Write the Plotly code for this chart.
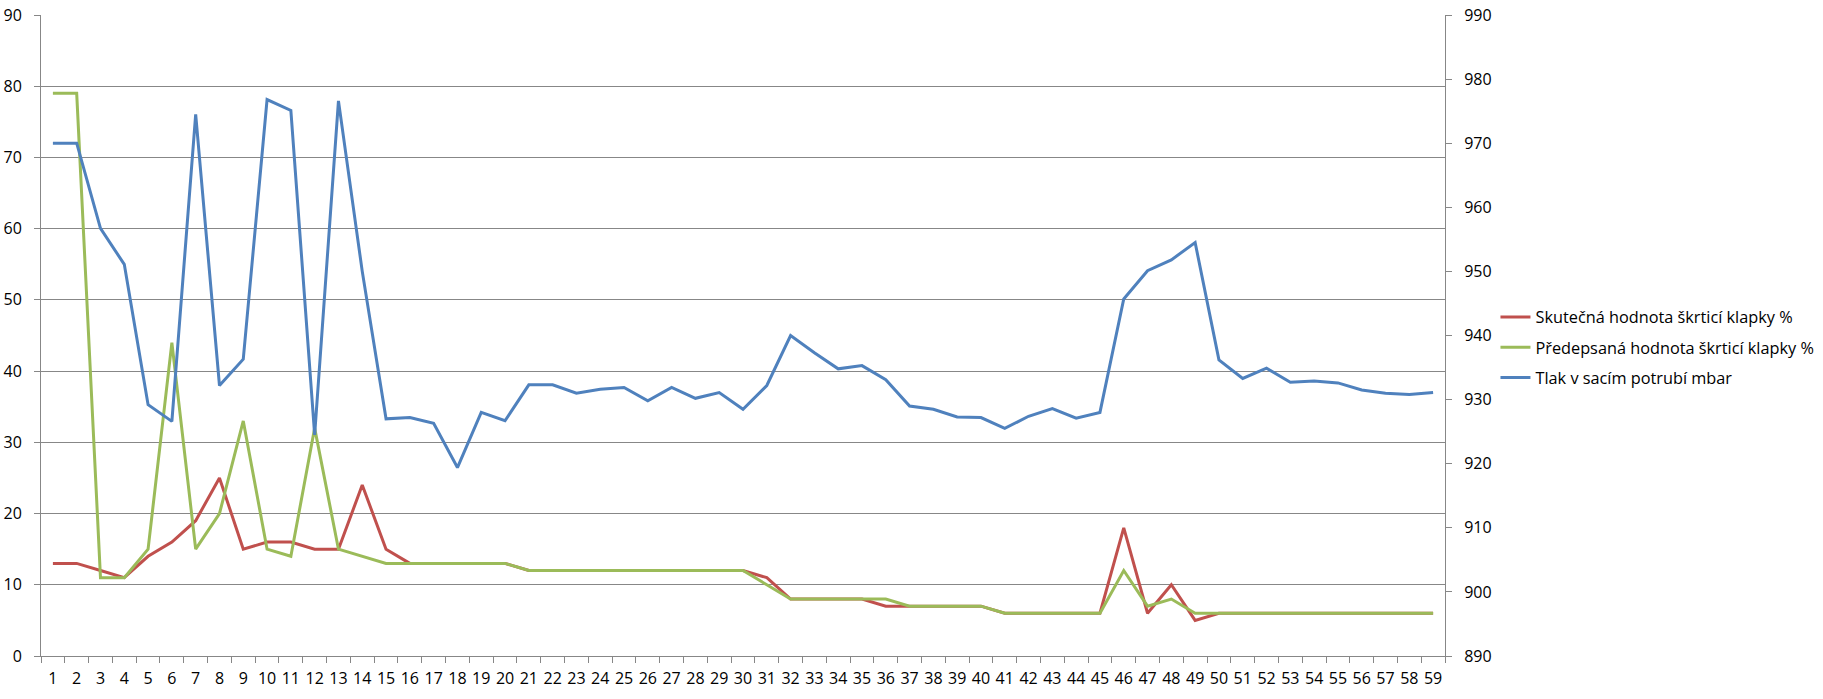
import plotly.graph_objects as go

categories = [str(i) for i in range(1, 60)]

skutecna = [13, 13, 12, 11, 14, 16, 19, 25, 15, 16, 16, 15, 15, 24, 15, 13, 13, 13, 13, 13,
            12, 12, 12, 12, 12, 12, 12, 12, 12, 12, 11, 8, 8, 8, 8, 7, 7, 7, 7, 7,
            6, 6, 6, 6, 6, 18, 6, 10, 5, 6, 6, 6, 6, 6, 6, 6, 6, 6, 6]

predepsana = [79, 79, 11, 11, 15, 44, 15, 20, 33, 15, 14, 32, 15, 14, 13, 13, 13, 13, 13, 13,
              12, 12, 12, 12, 12, 12, 12, 12, 12, 12, 10, 8, 8, 8, 8, 8, 7, 7, 7, 7,
              6, 6, 6, 6, 6, 12, 7, 8, 6, 6, 6, 6, 6, 6, 6, 6, 6, 6, 6]

tlak = [970, 970, 956.7, 951.1, 929.2, 926.6, 974.5, 932.2, 936.3, 976.8,
        975.1, 924.5, 976.6, 950.0, 927.0, 927.2, 926.3, 919.4, 928.0, 926.7,
        932.3, 932.3, 931.0, 931.6, 931.9, 929.8, 931.9, 930.2, 931.1, 928.5,
        932.2, 940.0, 937.3, 934.8, 935.3, 933.1, 929.0, 928.5, 927.3, 927.2,
        925.5, 927.4, 928.6, 927.1, 928.0, 945.7, 950.1, 951.8, 954.5, 936.2,
        933.3, 934.9, 932.7, 932.9, 932.6, 931.5, 931.0, 930.8, 931.1]

names = ["Skutečná hodnota škrticí klapky %",
         "Předepsaná hodnota škrticí klapky %",
         "Tlak v sacím potrubí mbar"]
colors = ["#C0504D", "#9BBB59", "#4F81BD"]

W, H = 1823, 699
L, R, T, B = 40.6, 1445.5, 15, 656  # target plot area in page pixels
FONT = "Open Sans"
FS = 16
LFS = 16.3
GRID = "#878787"

fig = go.Figure()
fig.add_trace(go.Scatter(x=categories, y=skutecna, name=names[0], mode="lines",
                         line=dict(color=colors[0], width=3), legendgroup="a"))
fig.add_trace(go.Scatter(x=categories, y=predepsana, name=names[1], mode="lines",
                         line=dict(color=colors[1], width=3), legendgroup="b"))
fig.add_trace(go.Scatter(x=categories, y=tlak, name=names[2], mode="lines",
                         line=dict(color=colors[2], width=3), legendgroup="c", yaxis="y2"))

fig.update_layout(
    template="none",
    width=W, height=H,
    margin=dict(l=L, r=W - R, t=T, b=H - B, pad=0, autoexpand=False),
    paper_bgcolor="white", plot_bgcolor="white",
    font=dict(family=FONT, size=FS, color="#000000"),
    showlegend=True,
    legend=dict(x=(1496 - L) / (R - L), y=(B - 300) / (B - T), xanchor="left", yanchor="top",
                xref="paper", yref="paper", bgcolor="rgba(0,0,0,0)", borderwidth=0,
                traceorder="grouped", tracegroupgap=6,
                font=dict(family=FONT, size=LFS, color="#000000")),
    xaxis=dict(type="category", range=[-0.5, 58.5], showgrid=False, automargin=False,
               showline=True, linecolor=GRID, linewidth=1, tickangle=0,
               ticks="outside", ticklen=6, tickcolor=GRID, tickson="boundaries",
               ticklabelstandoff=8, tickfont=dict(family=FONT, size=FS),
               zeroline=False, fixedrange=True),
    yaxis=dict(range=[0, 90], dtick=10, showgrid=True, gridcolor=GRID, gridwidth=1,
               showline=True, linecolor=GRID, linewidth=1, automargin=False,
               ticks="outside", ticklen=6, tickcolor=GRID, ticklabelstandoff=9,
               zeroline=False, tickfont=dict(family=FONT, size=FS)),
    yaxis2=dict(range=[890, 990], dtick=10, overlaying="y", side="right",
                showgrid=False, showline=True, linecolor=GRID, linewidth=1, automargin=False,
                ticks="outside", ticklen=6, tickcolor=GRID, ticklabelstandoff=9,
                zeroline=False, tickfont=dict(family=FONT, size=FS)),
)

fig.write_html("out.html", config={"displayModeBar": False},
               post_script="document.body.style.margin='0';document.body.style.padding='0';")
